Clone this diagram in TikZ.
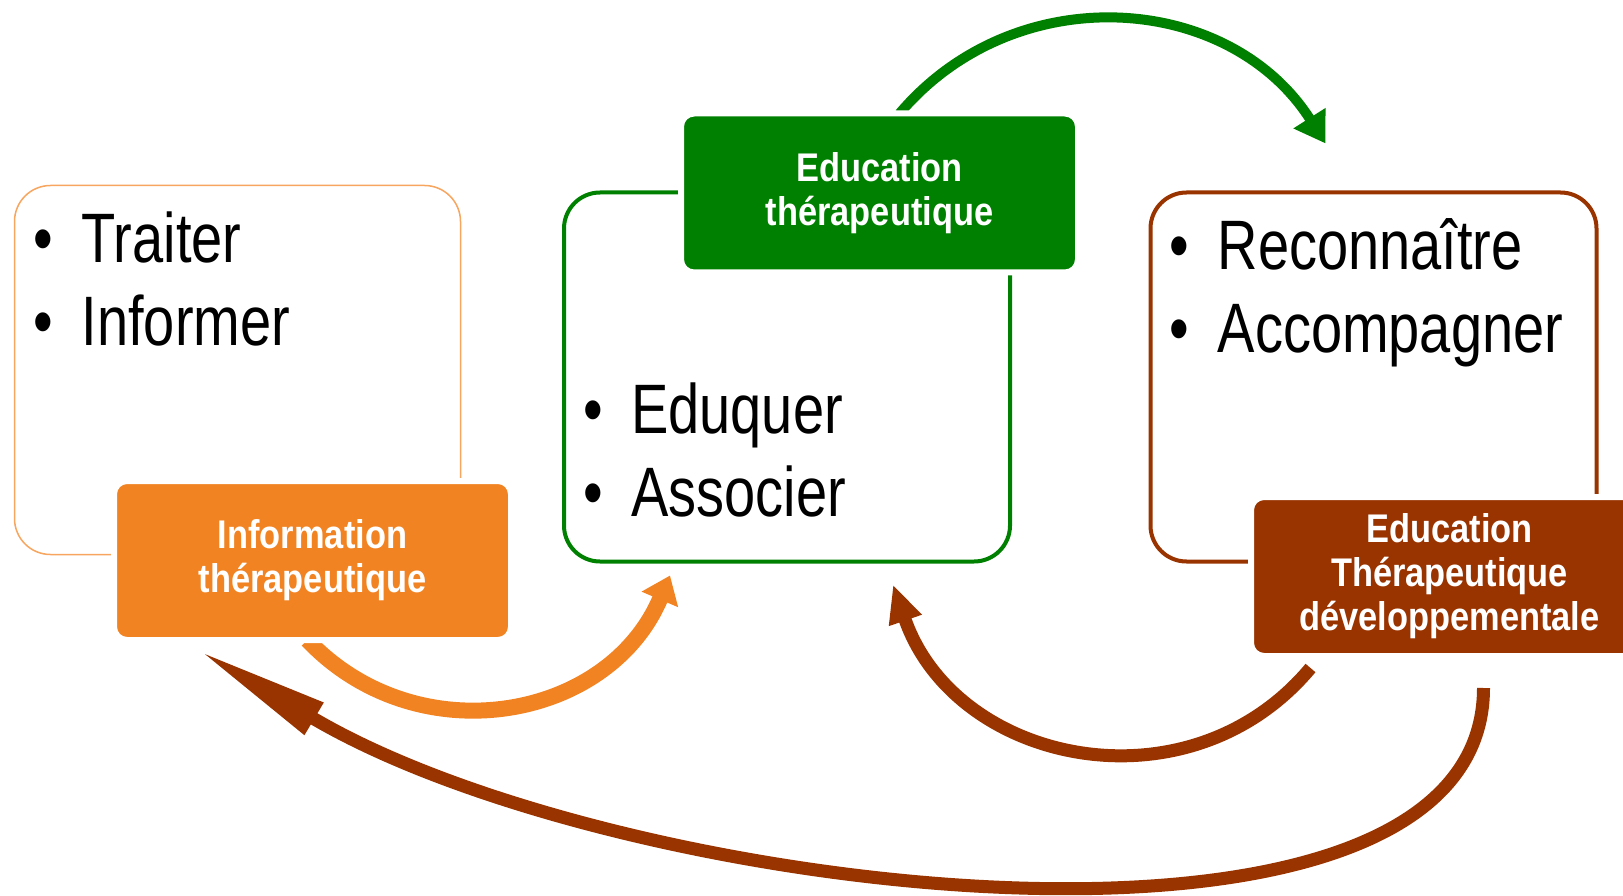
\documentclass[tikz,border=0pt]{standalone}
\usepackage{fontspec}
\usepackage{tikz}
\usetikzlibrary{arrows.meta,backgrounds}
\newfontfamily\itemfont{Liberation Sans}[FakeStretch=0.8]
\newfontfamily\tagfont{Liberation Sans}[FakeStretch=0.86]
\definecolor{infoorange}{HTML}{F28322}
\definecolor{infoline}{HTML}{F7A55F}
\definecolor{edugreen}{HTML}{008000}
\definecolor{devbrown}{HTML}{993300}

\tikzset{
    box/.style={rectangle, rounded corners=36pt, minimum width=446pt, minimum height=369pt, inner sep=0pt, outer sep=0pt},
    tag/.style={rectangle, rounded corners=13pt, draw=white, line width=6pt, minimum width=397pt, minimum height=159pt,
        inner sep=0pt, outer sep=0pt, text=white, align=center, font=\tagfont\bfseries\fontsize{40pt}{44pt}\selectfont},
    item/.style={anchor=base west, inner sep=0pt, font=\itemfont\fontsize{70pt}{83pt}\selectfont},
    greenarc/.style={draw=edugreen, line width=10pt, -{Triangle[length=30pt,width=36pt]}},
    orangearc/.style={draw=infoorange, line width=16pt, -{Triangle[length=26pt,width=38pt]}},
    brownarc/.style={draw=devbrown, line width=13pt, -{Triangle[length=38pt,width=32pt]}},
    longarc/.style={draw=devbrown, line width=13pt, -{Triangle[length=135pt,width=34pt]}}
}

\begin{document}
\begin{tikzpicture}[x=1pt,y=-1pt]
    \useasboundingbox (0,0) rectangle (1623,896);
    \clip (0,0) rectangle (1623,896);

    % the three boxes
    \node[box, draw=infoline, line width=1.5pt] (info) at (237.5,370) {};
    \node[box, draw=edugreen, line width=4pt] (edu) at (787,377) {};
    \node[box, draw=devbrown, line width=4pt] (dev) at (1373.5,377) {};

    % their labels
    \node[tag, fill=infoorange] (infotag) at (312.5,560.5) {Information\\thérapeutique};
    \node[tag, fill=edugreen] (edutag) at (879.5,193) {Education\\thérapeutique};
    \node[tag, fill=devbrown] (devtag) at (1449.5,576.5) {Education\\Thérapeutique\\développementale};

    % bullet lists
    \node[item] (traiter) at ([shift={(19,77)}]info.north west) {\makebox[48pt][l]{•}Traiter};
    \node[item] (informer) at ([shift={(0,83)}]traiter.base west) {\makebox[48pt][l]{•}Informer};
    \node[item] (eduquer) at ([shift={(19,241)}]edu.north west) {\makebox[48pt][l]{•}Eduquer};
    \node[item] (associer) at ([shift={(0,83)}]eduquer.base west) {\makebox[48pt][l]{•}Associer};
    \node[item] (reconnaitre) at ([shift={(19,77)}]dev.north west) {\makebox[48pt][l]{•}Reconnaître};
    \node[item] (accompagner) at ([shift={(0,83)}]reconnaitre.base west) {\makebox[48pt][l]{•}Accompagner};

    % arrow ends
    \coordinate (greentip) at ([shift={(-48,-49)}]dev.north);
    \coordinate (orangetip) at ([shift={(106,14)}]edu.south west);
    \coordinate (browntip) at ([shift={(-117,23)}]edu.south east);
    \coordinate (longtip) at ([shift={(84,10)}]infotag.south west);

    \begin{scope}[on background layer]
        \draw[greenarc] ([xshift=20pt]edutag.north) .. controls +(116,-137) and +(-96,-151) .. (greentip);
        \draw[orangearc] ([xshift=-5pt]infotag.south) .. controls +(109,115) and +(-62,146) .. (orangetip);
        \draw[brownarc] ([shift={(-139,12)}]devtag.south) .. controls +(-122,146) and +(62,180) .. (browntip);
        \draw[longarc] ([shift={(34,32)}]devtag.south) .. controls +(0,312) and +(420,249) .. (longtip);
    \end{scope}
\end{tikzpicture}
\end{document}
